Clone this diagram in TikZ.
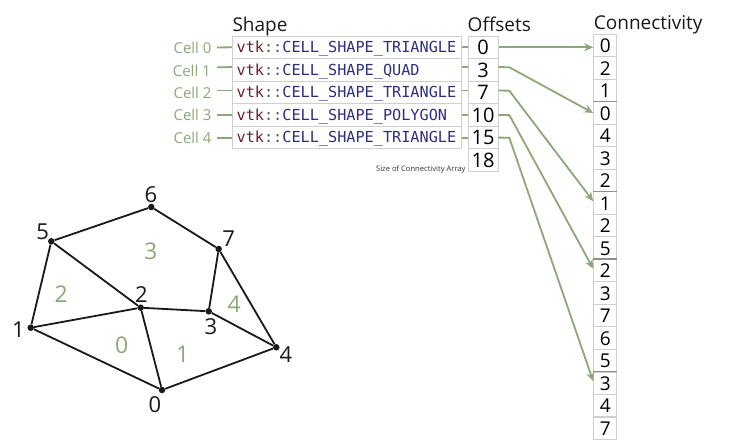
\documentclass[tikz,border=0pt]{standalone}
\usepackage{fontspec}
\setmainfont{Open Sans}
\setmonofont{DejaVu Sans Mono}
\usetikzlibrary{arrows.meta}
\definecolor{cellgreen}{HTML}{8CA878}
\definecolor{boxgray}{HTML}{CFCFCF}
\definecolor{sepgray}{HTML}{8F8F8F}
\definecolor{nsred}{HTML}{6B1F2A}
\definecolor{enumblue}{HTML}{2E2E80}
\definecolor{nsgray}{HTML}{555555}
\newcommand{\vtkname}[1]{\textcolor{nsred}{vtk}\textcolor{nsgray}{::}\textcolor{enumblue}{#1}}
\tikzset{
  shapebox/.style={draw=boxgray,line width=1pt,minimum width=229pt,minimum height=22.5pt,inner xsep=4.3pt,inner ysep=0pt,text width=220.4pt,align=left,text height=11.5pt,text depth=1.5pt,font=\ttfamily\fontsize{15.2}{16}\selectfont},
  numbox/.style={draw=boxgray,line width=1pt,minimum height=22.5pt,inner sep=0pt,text height=14pt,text depth=0pt,font=\fontsize{20}{20}\selectfont},
  offbox/.style={numbox,minimum width=30pt},
  conbox/.style={numbox,minimum width=23pt,font=\fontsize{19}{20}\selectfont},
  title/.style={inner sep=0pt,anchor=base west,font=\fontsize{19}{20}\selectfont,text=black!90},
  celltext/.style={inner sep=0pt,anchor=east,text=cellgreen,font=\fontsize{15}{16}\selectfont},
  greenline/.style={draw=cellgreen,line width=1.8pt},
  greenarrow/.style={greenline,-{Stealth[length=9pt,width=8pt]}},
  sepline/.style={draw=sepgray,line width=1.5pt},
  vertex/.style={circle,fill=black!90,inner sep=0pt,minimum size=6.5pt},
  vertextext/.style={inner sep=0pt,text=black!90,font=\fontsize{22}{24}\selectfont},
  facetext/.style={inner sep=0pt,text=cellgreen,font=\fontsize{23}{24}\selectfont},
  edge/.style={draw=black!90,line width=1.8pt}
}
\begin{document}
\begin{tikzpicture}[x=1pt,y=-1pt]
        \useasboundingbox (0,0) rectangle (740,442);
        % titles
        \node[title] (shapetitle) at (232.3,31) {Shape};
        \node[title] (offtitle) at (467.5,31) {Offsets};
        \node[title] (contitle) at (593.7,29) {Connectivity};
        % shape column
        \node[shapebox] (shape0) at (346.8,47.3) {\vtkname{CELL\_SHAPE\_TRIANGLE}};
        \node[shapebox] (shape1) at (346.8,70) {\vtkname{CELL\_SHAPE\_QUAD}};
        \node[shapebox] (shape2) at (346.8,92.5) {\vtkname{CELL\_SHAPE\_TRIANGLE}};
        \node[shapebox] (shape3) at (346.8,115) {\vtkname{CELL\_SHAPE\_POLYGON}};
        \node[shapebox] (shape4) at (346.8,137.6) {\vtkname{CELL\_SHAPE\_TRIANGLE}};
        % offsets column
        \node[offbox] (off0) at (483,47.3) {0};
        \node[offbox] (off1) at (483,70) {3};
        \node[offbox] (off2) at (483,92.5) {7};
        \node[offbox] (off3) at (483,115) {10};
        \node[offbox] (off4) at (483,137.6) {15};
        \node[offbox] (off5) at (483,160.2) {18};
        \node[inner sep=0pt,anchor=east,text=black!80,font=\fontsize{7.6}{8}\selectfont] (sizetext) at (465.7,169.5) {Size of Connectivity Array};
        % connectivity column
        \node[conbox] (con0) at (605.2,45.7) {0};
        \node[conbox] (con1) at (605.2,68.2) {2};
        \node[conbox] (con2) at (605.2,90.6) {1};
        \node[conbox] (con3) at (605.2,113) {0};
        \node[conbox] (con4) at (605.2,135.5) {4};
        \node[conbox] (con5) at (605.2,158) {3};
        \node[conbox] (con6) at (605.2,180.6) {2};
        \node[conbox] (con7) at (605.2,203.2) {1};
        \node[conbox] (con8) at (605.2,225.7) {2};
        \node[conbox] (con9) at (605.2,248.2) {5};
        \node[conbox] (con10) at (605.2,270.7) {2};
        \node[conbox] (con11) at (605.2,293.2) {3};
        \node[conbox] (con12) at (605.2,315.7) {7};
        \node[conbox] (con13) at (605.2,338.2) {6};
        \node[conbox] (con14) at (605.2,360.7) {5};
        \node[conbox] (con15) at (605.2,383.3) {3};
        \node[conbox] (con16) at (605.2,405.8) {4};
        \node[conbox] (con17) at (605.2,428.2) {7};
        \draw[sepline] (con3.north west) -- (con3.north east);
        \draw[sepline] (con7.north west) -- (con7.north east);
        \draw[sepline] (con10.north west) -- (con10.north east);
        \draw[sepline] (con15.north west) -- (con15.north east);
        % cell labels
        \node[celltext] (cell0) at (211.7,47.5) {Cell 0};
        \node[celltext] (cell1) at (211,70.5) {Cell 1};
        \node[celltext] (cell2) at (211.7,92.5) {Cell 2};
        \node[celltext] (cell3) at (211.7,115) {Cell 3};
        \node[celltext] (cell4) at (211.7,137.6) {Cell 4};
        \draw[greenline,shorten <=5.5pt] (cell0.east) -- (shape0.west);
        \draw[greenline,shorten <=6pt] ([yshift=3pt]cell1.east) -- ([yshift=3pt]shape1.west);
        \draw[greenline,shorten <=5.5pt] ([yshift=2pt]cell2.east) -- ([yshift=2pt]shape2.west);
        \draw[greenline,shorten <=5.5pt] (cell3.east) -- (shape3.west);
        \draw[greenline,shorten <=5.5pt] (cell4.east) -- (shape4.west);
        \draw[greenline] (shape0.east) -- (off0.west);
        \draw[greenline] ([yshift=3pt]shape1.east) -- ([yshift=3pt]off1.west);
        \draw[greenline] ([yshift=2pt]shape2.east) -- ([yshift=2pt]off2.west);
        \draw[greenline] (shape3.east) -- (off3.west);
        \draw[greenline] (shape4.east) -- (off4.west);
        % arrows to connectivity
        \coordinate (bend1) at (509.3,67.3);
        \coordinate (bend2) at (509.3,90.7);
        \coordinate (bend3) at (509.3,115);
        \coordinate (bend4) at (509.3,137.7);
        \draw[greenarrow] (off0.east) -- (off0.east -| con0.west);
        \draw[greenarrow] ([yshift=3pt]off1.east) -- (bend1) -- (con3.west);
        \draw[greenarrow] ([yshift=2pt]off2.east) -- (bend2) -- ([yshift=2pt]con7.west);
        \draw[greenarrow] (off3.east) -- (bend3) -- ([yshift=2pt]con10.west);
        \draw[greenarrow] (off4.east) -- (bend4) -- ([yshift=2pt]con15.west);
        % mesh points
        \node[vertex] (v0) at (162,390) {};
        \node[vertex] (v1) at (30.7,327.7) {};
        \node[vertex] (v2) at (140.7,307.7) {};
        \node[vertex] (v3) at (208.7,311.3) {};
        \node[vertex] (v4) at (276.3,347.3) {};
        \node[vertex] (v5) at (51.3,241.3) {};
        \node[vertex] (v6) at (151.3,207) {};
        \node[vertex] (v7) at (218.7,249) {};
        % mesh edges
        \draw[edge] (v0) -- (v1);\draw[edge] (v1) -- (v2);\draw[edge] (v2) -- (v0);
        \draw[edge] (v0) -- (v4);\draw[edge] (v4) -- (v3);\draw[edge] (v3) -- (v2);
        \draw[edge] (v1) -- (v5);\draw[edge] (v5) -- (v2);\draw[edge] (v5) -- (v6);
        \draw[edge] (v6) -- (v7);\draw[edge] (v7) -- (v3);\draw[edge] (v7) -- (v4);
        % mesh point numbers
        \node[vertextext] (t0) at (155,405) {0};
        \node[vertextext] (t1) at (18.3,330) {1};
        \node[vertextext] (t2) at (141.3,295) {2};
        \node[vertextext] (t3) at (211,326.7) {3};
        \node[vertextext] (t4) at (286,355) {4};
        \node[vertextext] (t5) at (42.7,231.7) {5};
        \node[vertextext] (t6) at (151,195) {6};
        \node[vertextext] (t7) at (228.7,238.3) {7};
        % cell numbers
        \node[facetext] (f0) at (121.7,345) {0};
        \node[facetext] (f1) at (182.7,354.3) {1};
        \node[facetext] (f2) at (61.3,294) {2};
        \node[facetext] (f3) at (150.7,251.7) {3};
        \node[facetext] (f4) at (234.3,304) {4};
\end{tikzpicture}
\end{document}
